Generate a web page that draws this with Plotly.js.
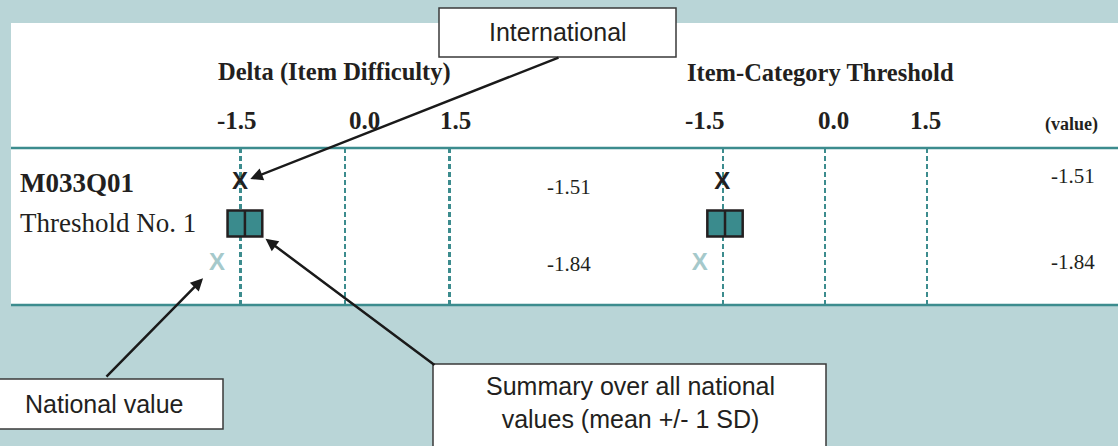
<!DOCTYPE html>
<html>
<head>
<meta charset="utf-8">
<script src="https://cdn.plot.ly/plotly-3.0.1.min.js"></script>
<style>html,body{margin:0;padding:0;background:#b9d5d7;}#chart{width:1118px;height:446px;}</style>
</head>
<body>
<div id="chart"></div>
<script>
// ---------- data ----------
const panelTitles = ['Delta (Item Difficulty)', 'Item-Category Threshold'];
const tickVals = [-1.5, 0, 1.5];
const tickText = ['-1.5', '0.0', '1.5'];
const itemCode = 'M033Q01';
const thresholdLabel = 'Threshold No. 1';
const valueColumnLabel = '(value)';
const intlValues = [-1.51, -1.51];   // international value per panel
const natValues = [-1.84, -1.84];    // national value per panel
const sumMean = [-1.44, -1.47];      // mean of national values
const sumSD = [0.25, 0.26];          // 1 SD of national values
const calloutTexts = ['International', 'National value', 'Summary over all national<br>values (mean +/- 1 SD)'];

// ---------- geometry / style ----------
const W = 1118, H = 446;
const BG = '#b9d5d7', TEAL = '#3c8c8e', BOXFILL = '#3a8b8d', INK = '#231f20', LIGHTX = '#a5c9cb';
const SERIF = 'Liberation Serif, Times New Roman, serif';
const SANS = 'Liberation Sans, Arial, sans-serif';
const px2x = p => p / W;
const py2y = p => 1 - p / H;

const AX = [
  {id: 'x', dom: [100, 600], rng: [-3.525, 3.669]},
  {id: 'x2', dom: [660, 1050], rng: [-2.426, 3.309]}
];
const YDOM = [148, 305], YRNG = [3.012, -0.864];
function xPx(i, v) { const a = AX[i]; return a.dom[0] + (v - a.rng[0]) / (a.rng[1] - a.rng[0]) * (a.dom[1] - a.dom[0]); }
function yPx(r) { return YDOM[0] + (r - YRNG[1]) / (YRNG[0] - YRNG[1]) * (YDOM[1] - YDOM[0]); }

const BOXH = 0.32; // half height of summary box in row units
const ROW_INTL = 0, ROW_SUM = 1, ROW_NAT = 2;

// ---------- traces ----------
const traces = [];
AX.forEach((a, i) => {
  traces.push({
    type: 'scatter', mode: 'text', x: [intlValues[i]], y: [ROW_INTL], text: ['<b>X</b>'],
    textposition: 'middle center', textfont: {family: SANS, size: 24, color: INK},
    xaxis: a.id, yaxis: 'y', cliponaxis: false, hoverinfo: 'skip'
  });
  traces.push({
    type: 'scatter', mode: 'text', x: [natValues[i]], y: [ROW_NAT], text: ['<b>X</b>'],
    textposition: 'middle center', textfont: {family: SANS, size: 24, color: LIGHTX},
    xaxis: a.id, yaxis: 'y', cliponaxis: false, hoverinfo: 'skip'
  });
});

// ---------- shapes ----------
const shapes = [
  {type: 'rect', xref: 'paper', yref: 'paper', x0: px2x(11), x1: 1, y0: py2y(305), y1: py2y(23),
   fillcolor: '#ffffff', line: {width: 0}, layer: 'below'},
  {type: 'line', xref: 'paper', yref: 'paper', x0: px2x(11), x1: 1, y0: py2y(148), y1: py2y(148),
   line: {color: TEAL, width: 2.5}},
  {type: 'line', xref: 'paper', yref: 'paper', x0: px2x(11), x1: 1, y0: py2y(305), y1: py2y(305),
   line: {color: TEAL, width: 2.5}}
];
AX.forEach((a, i) => {
  shapes.push({type: 'rect', xref: a.id, yref: 'y', x0: sumMean[i] - sumSD[i], x1: sumMean[i] + sumSD[i],
    y0: ROW_SUM - BOXH, y1: ROW_SUM + BOXH, fillcolor: BOXFILL, line: {color: INK, width: 2.5}, layer: 'above'});
  shapes.push({type: 'line', xref: a.id, yref: 'y', x0: sumMean[i], x1: sumMean[i],
    y0: ROW_SUM - BOXH, y1: ROW_SUM + BOXH, line: {color: INK, width: 2.5}, layer: 'above'});
});
// callout boxes
const calloutBoxes = [[439, 676, 8, 57], [-2, 223, 379, 429], [433, 826, 364, 452]];
calloutBoxes.forEach(b => {
  shapes.push({type: 'rect', xref: 'paper', yref: 'paper', x0: px2x(b[0]), x1: px2x(b[1]),
    y0: py2y(b[3]), y1: py2y(b[2]), fillcolor: '#ffffff', line: {color: '#3a3a3a', width: 1.5}, layer: 'above'});
});

// ---------- annotations ----------
const ann = [];
// panel titles
const titleLeft = [216, 685];
panelTitles.forEach((t, i) => ann.push({
  text: t, xref: 'paper', yref: 'paper', x: px2x(titleLeft[i]), y: py2y(72), xanchor: 'left', yanchor: 'middle',
  showarrow: false, font: {family: SERIF, size: 24.5, color: INK, weight: 'bold'}
}));
// tick labels
const tickNudge = [[-4, 19, 6], [-18, 9, -1]];
AX.forEach((a, i) => tickVals.forEach((v, k) => ann.push({
  text: tickText[k], xref: a.id, yref: 'paper', x: v, y: py2y(120), xanchor: 'center', yanchor: 'middle',
  xshift: tickNudge[i][k], showarrow: false, font: {family: SERIF, size: 25, color: INK, weight: 'bold'}
})));
ann.push({text: valueColumnLabel, xref: 'paper', yref: 'paper', x: px2x(1071), y: py2y(124), xanchor: 'center', yanchor: 'middle',
  showarrow: false, font: {family: SERIF, size: 18, color: INK, weight: 'bold'}});
// row labels
ann.push({text: itemCode, xref: 'paper', yref: 'y', x: px2x(18), y: ROW_INTL, xanchor: 'left', yanchor: 'middle',
  showarrow: false, font: {family: SERIF, size: 27, color: INK, weight: 'bold'}});
ann.push({text: thresholdLabel, xref: 'paper', yref: 'y', x: px2x(18), y: ROW_SUM, xanchor: 'left', yanchor: 'middle',
  yshift: 1, showarrow: false, font: {family: SERIF, size: 27, color: INK}});
// value columns
const valueColX = [569, 1073];
const valueYShift = [[-4, 0], [7, 2]];
AX.forEach((a, i) => {
  [[intlValues[i], ROW_INTL], [natValues[i], ROW_NAT]].forEach((p, k) => ann.push({
    text: p[0].toFixed(2), xref: 'paper', yref: 'y', x: px2x(valueColX[i]), y: p[1], xanchor: 'center', yanchor: 'middle',
    yshift: valueYShift[i][k], showarrow: false, font: {family: SERIF, size: 21, color: INK}
  }));
});
// callout texts
const calloutCenters = [[558, 32], [104, 404], [630, 402]];
calloutTexts.forEach((t, i) => ann.push({
  text: t, xref: 'paper', yref: 'paper', x: px2x(calloutCenters[i][0]), y: py2y(calloutCenters[i][1]),
  xanchor: 'center', yanchor: 'middle', showarrow: false, font: {family: SANS, size: 25, color: INK}
}));
// arrows
function arrow(xref, xv, yv, xpx, ypx, tail, standoff) {
  return {text: '', xref: xref, yref: 'y', x: xv, y: yv, showarrow: true, arrowhead: 2, arrowsize: 1,
    arrowwidth: 2.5, arrowcolor: '#1a1a1a', standoff: standoff, ax: tail[0] - xpx, ay: tail[1] - ypx};
}
ann.push(arrow('x', intlValues[0], ROW_INTL, xPx(0, intlValues[0]), yPx(ROW_INTL), [560, 57], 11));
ann.push(arrow('x', natValues[0], ROW_NAT, xPx(0, natValues[0]), yPx(ROW_NAT), [105, 378], 20));
const sx = sumMean[0] + sumSD[0];
ann.push(arrow('x', sx, ROW_SUM + BOXH, xPx(0, sx), yPx(ROW_SUM + BOXH), [436, 366], 4));

// ---------- layout ----------
function xaxisDef(a) {
  return {domain: [px2x(a.dom[0]), px2x(a.dom[1])], range: a.rng, anchor: 'y', tickvals: tickVals,
    showgrid: true, gridcolor: TEAL, gridwidth: 2.5, griddash: '5px,3px', zeroline: false,
    showticklabels: false, ticks: '', showline: false, fixedrange: true};
}
const layout = {
  width: W, height: H, margin: {l: 0, r: 0, t: 0, b: 0, pad: 0},
  paper_bgcolor: BG, plot_bgcolor: 'rgba(0,0,0,0)', showlegend: false,
  xaxis: xaxisDef(AX[0]), xaxis2: xaxisDef(AX[1]),
  yaxis: {domain: [py2y(YDOM[1]), py2y(YDOM[0])], range: YRNG, showgrid: false, zeroline: false,
    showticklabels: false, ticks: '', showline: false, fixedrange: true},
  shapes: shapes, annotations: ann
};
Plotly.newPlot('chart', traces, layout, {displayModeBar: false, staticPlot: true});
</script>
</body>
</html>
